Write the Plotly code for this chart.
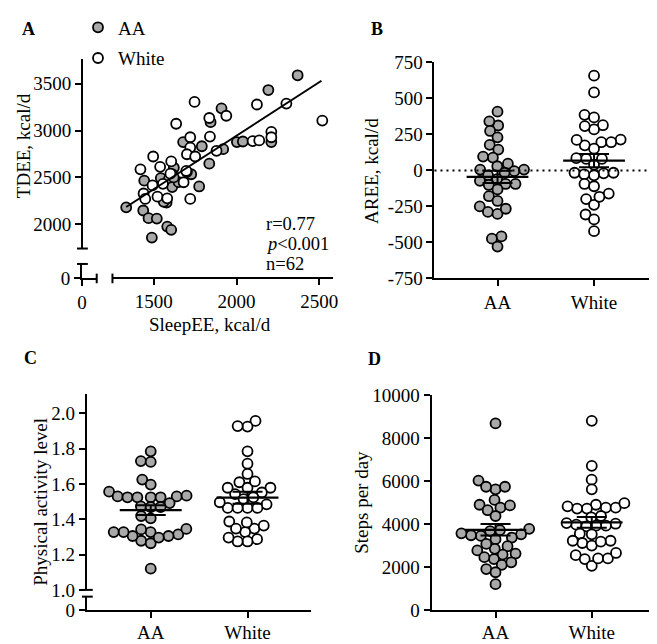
import numpy as np
import plotly.graph_objects as go

# ---------------- data ----------------
groups = ["AA", "White"]

# Panel A: SleepEE vs TDEE (kcal/d)
aa_sleep = [2369, 2192, 1909, 1843, 2210, 1677, 1790, 1919, 2002, 2038, 1835, 1621,
            1611, 1726, 1542, 1442, 1591, 1611, 1774, 1577, 1333, 1436, 1468, 1518,
            1581, 1605, 1488, 1560, 1700, 1650, 1620]
aa_tdee = [3588, 3431, 3236, 3089, 2877, 2877, 2832, 2801, 2877, 2883, 2647, 2603,
           2534, 2534, 2493, 2466, 2483, 2398, 2404, 2233, 2182, 2148, 2066, 2062,
           1977, 1942, 1860, 2240, 2560, 2450, 2500]
wh_sleep = [1746, 2123, 2301, 1938, 1835, 1635, 2518, 2210, 2210, 1839, 1720, 1720,
            1700, 1750, 1879, 2097, 2137, 1496, 1605, 1538, 1419, 1696, 1492, 1680,
            1555, 1438, 1522, 1581, 1448, 1720, 1600]
wh_tdee = [3304, 3277, 3287, 3157, 3133, 3072, 3106, 2986, 2928, 2935, 2928, 2818,
           2747, 2723, 2784, 2887, 2894, 2723, 2671, 2613, 2586, 2569, 2415, 2449,
           2432, 2329, 2295, 2278, 2271, 2271, 2540]
fit_sleep = [1333, 2513]
fit_tdee = [2185, 3530]
stats_text = ["r=0.77", "<i>p</i>&lt;0.001", "n=62"]

# Panel B: AREE (kcal/d)
aa_aree = [408, 312, 341, 274, 230, 178, 145, 89, 96, 47, -5, 29, 6, 6, -16, -34,
           -60, -72, -94, -101, -94, -132, -179, -212, -250, -288, -302, -266,
           -458, -474, -529]
wh_aree = [658, 542, 386, 368, 314, 285, 308, 214, 196, 174, 151, 196, 212, 80, 40,
           80, 85, -16, -20, -34, -27, -16, -94, -110, -161, -199, -239, -183,
           -306, -340, -422]

# Panel C: physical activity level
aa_pal = [1.784, 1.729, 1.724, 1.624, 1.596, 1.556, 1.529, 1.529, 1.524, 1.524, 1.533,
          1.524, 1.524, 1.491, 1.473, 1.469, 1.469, 1.405, 1.418, 1.327, 1.314, 1.305,
          1.342, 1.278, 1.264, 1.345, 1.296, 1.305, 1.327, 1.327, 1.120]
wh_pal = [1.956, 1.924, 1.927, 1.784, 1.714, 1.656, 1.609, 1.578, 1.551, 1.542, 1.578,
          1.578, 1.614, 1.514, 1.484, 1.464, 1.464, 1.464, 1.464, 1.496, 1.347, 1.327,
          1.382, 1.364, 1.387, 1.347, 1.287, 1.274, 1.274, 1.296, 1.524]

# Panel D: steps per day
aa_steps = [8682, 6018, 5613, 5733, 5733, 5119, 4895, 4760, 4640, 4865, 4371, 3667,
            3772, 3712, 3517, 3443, 3368, 3293, 3473, 3563, 2964, 2769, 2575, 2619,
            2844, 3069, 2365, 2096, 1901, 1751, 2215, 2455, 1197]
wh_steps = [8802, 6706, 6062, 5613, 4895, 4760, 4715, 4715, 4760, 4820, 4970, 4311,
            4371, 4011, 3922, 3892, 3922, 3967, 4041, 3548, 3218, 3114, 2994, 3174,
            3218, 3518, 2545, 2365, 2051, 2395, 2395, 2649]

# ---------------- layout helpers ----------------
W, H = 657, 644
FONT = "Liberation Serif"
GRAY = "#a9a9a9"
MS = 10
MLW = 1.8
DY = -5  # vertical shift of bottom row


def px(x):
    return x / W


def py(y):
    return 1 - y / H


axc = dict(showline=True, linewidth=2, linecolor="black", ticks="outside", ticklen=6,
           tickwidth=2, tickcolor="black", showgrid=False, zeroline=False,
           tickfont=dict(family=FONT, size=19, color="black"), fixedrange=True)


def beeswarm(values, y_px_per_unit, x_px_per_unit, diam=10.0):
    vals = np.asarray(values, dtype=float)
    order = np.argsort(vals)
    placed = []
    offs = np.zeros(len(vals))
    for i in order:
        yv = vals[i] * y_px_per_unit
        forb = []
        for xp, yp in placed:
            dy = abs(yv - yp)
            if dy < diam:
                dx = np.sqrt(diam ** 2 - dy ** 2)
                forb.append((xp - dx, xp + dx))
        cands = [0.0] + [a for a, b in forb] + [b for a, b in forb]
        cands.sort(key=lambda c: (abs(c), c))
        xsel = 0.0
        for c in cands:
            if all(not (a + 1e-6 < c < b - 1e-6) for a, b in forb):
                xsel = c
                break
        placed.append((xsel, yv))
        offs[i] = xsel / x_px_per_unit
    return offs


fig = go.Figure()

# ---------------- Panel A ----------------
fig.add_trace(go.Scatter(x=aa_sleep, y=aa_tdee, mode="markers", name="AA",
                         marker=dict(size=MS, color=GRAY, line=dict(color="black", width=MLW)),
                         xaxis="x", yaxis="y", legendgroup="aa"))
fig.add_trace(go.Scatter(x=wh_sleep, y=wh_tdee, mode="markers", name="White",
                         marker=dict(size=MS, color="white", line=dict(color="black", width=MLW)),
                         xaxis="x", yaxis="y", legendgroup="wh"))
fig.add_trace(go.Scatter(x=fit_sleep, y=fit_tdee, mode="lines", showlegend=False,
                         line=dict(color="black", width=2), xaxis="x", yaxis="y"))
# empty traces so break segments exist
fig.add_trace(go.Scatter(x=[], y=[], xaxis="x2", yaxis="y2", showlegend=False))
fig.add_trace(go.Scatter(x=[], y=[], xaxis="x4", yaxis="y5", showlegend=False))


# ---------------- dot plots ----------------
def dot_panel(xa, ya, aa_vals, wh_vals, y_px_per_unit, x_px_per_unit):
    for gi, (vals, col) in enumerate([(aa_vals, GRAY), (wh_vals, "white")]):
        offs = beeswarm(vals, y_px_per_unit, x_px_per_unit)
        fig.add_trace(go.Scatter(x=gi + offs, y=vals, mode="markers", showlegend=False,
                                 marker=dict(size=MS, color=col, line=dict(color="black", width=MLW)),
                                 xaxis=xa, yaxis=ya))
    for gi, vals in enumerate([aa_vals, wh_vals]):
        v = np.asarray(vals, dtype=float)
        m = v.mean()
        sem = v.std(ddof=1) / np.sqrt(len(v))
        fig.add_trace(go.Scatter(x=[gi - 0.32, gi + 0.32], y=[m, m], mode="lines",
                                 showlegend=False, line=dict(color="black", width=2.2),
                                 xaxis=xa, yaxis=ya))
        fig.add_trace(go.Scatter(x=[gi], y=[m], mode="markers", showlegend=False,
                                 marker=dict(size=1, color="rgba(0,0,0,0)"),
                                 error_y=dict(type="data", array=[sem], color="black",
                                              thickness=2, width=15),
                                 xaxis=xa, yaxis=ya))


dot_panel("x3", "y3", aa_aree, wh_aree, 224 / 1500, 98)
dot_panel("x4", "y4", aa_pal, wh_pal, 183.3, 98)
dot_panel("x5", "y6", aa_steps, wh_steps, 222.7 / 10000, 98)

# ---------------- axes ----------------
b_ticks = [-750, -500, -250, 0, 250, 500, 750]
c_ticks = [1.0, 1.2, 1.4, 1.6, 1.8, 2.0]
d_ticks = [0, 2000, 4000, 6000, 8000, 10000]

fig.update_layout(
    xaxis=dict(axc, domain=[px(101), px(325)], range=[1250, 2583], tickvals=[1500, 2000, 2500],
               anchor="free", position=py(268)),
    xaxis2=dict(axc, domain=[px(70), px(85)], range=[0, 100], tickvals=[0], anchor="y2"),
    yaxis=dict(axc, domain=[py(237), py(40)], range=[1743, 3766],
               tickvals=[2000, 2500, 3000, 3500], anchor="free", position=px(70)),
    yaxis2=dict(axc, domain=[py(268), py(253)], range=[0, 100], tickvals=[0], anchor="x2"),
    xaxis3=dict(axc, domain=[px(428), px(655)], range=[-0.653, 1.663], tickvals=[0, 1],
                ticktext=groups, anchor="y3"),
    yaxis3=dict(axc, domain=[py(268), py(44)], range=[-750, 750], tickvals=b_ticks,
                ticktext=[str(t) for t in b_ticks], anchor="x3"),
    xaxis4=dict(axc, domain=[px(75), px(303)], range=[-0.66, 1.66], tickvals=[0, 1],
                ticktext=groups, anchor="y5", ticklabelstandoff=-2),
    yaxis4=dict(axc, domain=[py(596 + DY), py(393.3 + DY)], range=[1.0, 2.106], tickvals=c_ticks,
                ticktext=["%.1f" % t for t in c_ticks], anchor="x4"),
    yaxis5=dict(axc, domain=[py(616.7 + DY), py(603 + DY)], range=[0, 100], tickvals=[0],
                anchor="x4"),
    xaxis5=dict(axc, domain=[px(425), px(653)], range=[-0.665, 1.668], tickvals=[0, 1],
                ticktext=groups, anchor="y6", ticklabelstandoff=-2),
    yaxis6=dict(axc, domain=[py(616.7 + DY), py(394 + DY)], range=[0, 10000], tickvals=d_ticks,
                ticktext=[str(t) for t in d_ticks], anchor="x5"),
)

# ---------------- shapes: axis breaks + zero line ----------------
shapes = []


def seg(x0, y0, x1, y1):
    shapes.append(dict(type="line", xref="paper", yref="paper", x0=px(x0), y0=py(y0),
                       x1=px(x1), y1=py(y1), line=dict(color="black", width=2)))


seg(65, 237, 76, 237)
seg(65, 253, 76, 253)
seg(85, 263, 85, 273)
seg(101, 263, 101, 273)
seg(70, 596 + DY, 81, 596 + DY)
seg(70, 603 + DY, 81, 603 + DY)
shapes.append(dict(type="line", xref="x3 domain", yref="y3", x0=0, x1=1, y0=0, y1=0,
                   line=dict(color="black", width=2, dash="2px,4px")))
fig.update_layout(shapes=shapes)

# ---------------- annotations ----------------
anns = []


def ann(text, x, y, size=19, bold=False, xanchor="center", angle=0):
    t = "<b>%s</b>" % text if bold else text
    anns.append(dict(text=t, x=px(x), y=py(y), xref="paper", yref="paper", showarrow=False,
                     xanchor=xanchor, yanchor="middle", textangle=angle,
                     font=dict(family=FONT, size=size, color="black")))


ann("A", 7, 9, 18, True, "left")
ann("B", 362, 9, 18, True, "left")
ann("C", 9, 356 + DY, 18, True, "left")
ann("D", 358, 357 + DY, 18, True, "left")
ann("TDEE, kcal/d", 11, 130, angle=-90)
ann("SleepEE, kcal/d", 200, 316)
ann("AREE, kcal/d", 364, 156, angle=-90)
ann("Physical activity level", 28, 505 + DY, angle=-90)
ann("Steps per day", 354, 505 + DY, angle=-90)
for i, (t, yy) in enumerate(zip(stats_text, [212, 232, 253])):
    ann(t, 255, yy, 18.5, False, "left")
fig.update_layout(annotations=anns)

fig.update_layout(
    width=W, height=H, margin=dict(l=0, r=0, t=0, b=0),
    paper_bgcolor="white", plot_bgcolor="white",
    font=dict(family=FONT, size=19, color="black"),
    showlegend=True,
    legend=dict(x=px(66), y=py(-12), xanchor="left", yanchor="top",
                font=dict(family=FONT, size=19, color="black"),
                bgcolor="rgba(0,0,0,0)", tracegroupgap=3, itemwidth=30),
)

fig.write_html("out.html")
